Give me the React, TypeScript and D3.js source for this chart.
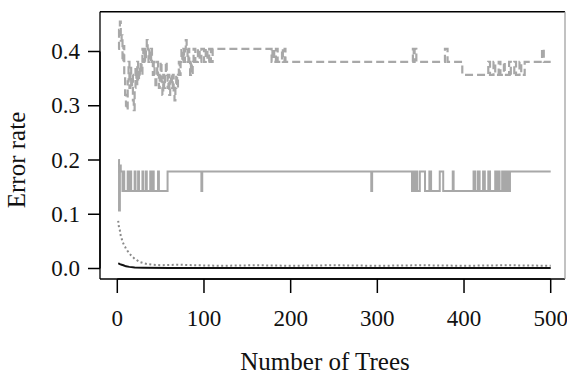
import React from "react";
import * as d3 from "d3";

const xTicks = [0, 100, 200, 300, 400, 500];
const xTickLabels = ["0", "100", "200", "300", "400", "500"];
const yTicks = [0, 0.1, 0.2, 0.3, 0.4];
const yTickLabels = ["0.0", "0.1", "0.2", "0.3", "0.4"];
const xTitle = "Number of Trees";
const yTitle = "Error rate";

// class 1 (grey dashed) — breakpoints [tree, error]
const class1Trees = [
  1, 2, 3, 4, 5, 6, 7, 8, 9, 10, 11, 12, 13, 14, 15, 16, 17, 18, 19, 20,
  21, 22, 23, 24, 25, 26, 27, 28, 29, 30, 31, 32, 33, 34, 35, 36, 37, 38, 39, 40,
  41, 42, 43, 44, 45, 46, 47, 48, 49, 50, 51, 52, 53, 54, 55, 56, 57, 58, 59, 60,
  61, 62, 63, 64, 65, 66, 67, 68, 69, 70, 71, 72, 73, 74, 75, 76, 77, 78, 79, 80,
  81, 82, 83, 84, 85, 86, 87, 88, 90, 93, 95, 97, 100, 102, 104, 106, 108, 110,
  178, 179, 181, 183, 185, 190, 191, 193, 194,
  341, 342, 343, 345, 378, 381, 398,
  428, 430, 434, 436, 440, 442, 446, 447, 452, 454, 458, 460, 464, 466, 470,
  490, 492, 500,
];
const class1Err = [
  0.405, 0.44, 0.455, 0.42, 0.43, 0.381, 0.41, 0.357, 0.32, 0.3, 0.292, 0.345, 0.381, 0.333, 0.37, 0.333, 0.357, 0.31, 0.292, 0.333,
  0.37, 0.34, 0.381, 0.345, 0.37, 0.357, 0.381, 0.357, 0.405, 0.381, 0.405, 0.381, 0.405, 0.421, 0.405, 0.381, 0.405, 0.381, 0.405, 0.381,
  0.357, 0.381, 0.357, 0.333, 0.357, 0.381, 0.357, 0.333, 0.357, 0.381, 0.345, 0.32, 0.357, 0.333, 0.357, 0.381, 0.357, 0.333, 0.357, 0.32,
  0.345, 0.357, 0.333, 0.357, 0.32, 0.31, 0.333, 0.357, 0.333, 0.357, 0.381, 0.357, 0.381, 0.405, 0.381, 0.405, 0.381, 0.405, 0.421, 0.405,
  0.381, 0.405, 0.381, 0.357, 0.381, 0.357, 0.381, 0.405, 0.381, 0.405, 0.381, 0.405, 0.381, 0.405, 0.381, 0.405, 0.381, 0.405,
  0.381, 0.405, 0.381, 0.405, 0.381, 0.405, 0.381, 0.405, 0.381,
  0.405, 0.381, 0.405, 0.381, 0.405, 0.381, 0.357,
  0.381, 0.357, 0.381, 0.357, 0.381, 0.357, 0.381, 0.357, 0.381, 0.357, 0.381, 0.357, 0.381, 0.357, 0.381,
  0.405, 0.381, 0.381,
];

// class 2 (grey solid)
const class2Trees = [
  1, 2, 3, 4, 6, 7, 8, 12, 13, 15, 16, 20, 21, 24, 25, 29, 30, 33, 34, 38, 39, 41, 42, 47, 48, 58,
  97, 98, 293, 294,
  340, 341, 342, 343, 344, 345, 346, 349, 355, 360, 362, 372, 376, 387, 388,
  411, 413, 416, 418, 422, 424, 428, 430, 436, 438, 440, 441, 444, 445, 447, 448, 450, 451, 453, 500,
];
const class2Err = [
  0.2, 0.107, 0.19, 0.179, 0.143, 0.179, 0.143, 0.179, 0.143, 0.179, 0.143, 0.179, 0.143, 0.179, 0.143, 0.179, 0.143, 0.179, 0.143, 0.179, 0.143, 0.179, 0.143, 0.179, 0.143, 0.179,
  0.143, 0.179, 0.143, 0.179,
  0.143, 0.179, 0.143, 0.179, 0.143, 0.179, 0.143, 0.179, 0.143, 0.179, 0.143, 0.179, 0.143, 0.179, 0.143,
  0.179, 0.143, 0.179, 0.143, 0.179, 0.143, 0.179, 0.143, 0.179, 0.143, 0.179, 0.143, 0.179, 0.143, 0.179, 0.143, 0.179, 0.143, 0.179, 0.179,
];

// class 3 (grey dotted)
const class3Trees = [1, 2, 3, 4, 5, 6, 7, 8, 9, 10, 12, 14, 16, 18, 20, 23, 26, 30, 35, 40, 50, 70, 90, 120, 160, 200, 250, 300, 350, 400, 450, 500];
const class3Err = [0.088, 0.075, 0.07, 0.06, 0.055, 0.05, 0.046, 0.042, 0.04, 0.036, 0.032, 0.028, 0.024, 0.021, 0.018, 0.015, 0.012, 0.01, 0.008, 0.007, 0.006, 0.007, 0.006, 0.005, 0.006, 0.005, 0.006, 0.005, 0.006, 0.005, 0.006, 0.005];

// OOB (black solid)
const oobTrees = [1, 2, 3, 5, 7, 10, 14, 20, 30, 60, 150, 300, 500];
const oobErr = [0.0095, 0.009, 0.008, 0.007, 0.006, 0.004, 0.003, 0.002, 0.0015, 0.001, 0.001, 0.001, 0.001];

const W = 567;
const H = 375;
const FONT = "Liberation Serif, DejaVu Serif, Noto Serif, serif";

export default function App() {
  const x = d3.scaleLinear().domain([0, 500]).range([117.3, 550.7]);
  const y = d3.scaleLinear().domain([0, 0.4]).range([268.5, 51.5]);
  const frame = { left: 100, top: 11.7, right: 565, bottom: 279 };

  const zip = (t: number[], v: number[]) => t.map((tt, i) => [tt, v[i]] as [number, number]);
  const stepLine = d3
    .line<[number, number]>()
    .x((d) => x(d[0]))
    .y((d) => y(d[1]))
    .curve(d3.curveStepAfter);
  const linLine = d3
    .line<[number, number]>()
    .x((d) => x(d[0]))
    .y((d) => y(d[1]));

  const textStyle: React.CSSProperties = { fontFamily: FONT };

  return (
    <div style={{ position: "absolute", left: 0, top: 0 }}>
      <svg width={W} height={H} style={{ display: "block", background: "#fff" }}>
        <rect x={0} y={0} width={W} height={H} fill="#fff" />
        {/* series */}
        <path d={linLine(zip(class3Trees, class3Err)) || ""} fill="none" stroke="#8a8a8a" strokeWidth={2} strokeDasharray="2,2.5" />
        <path d={stepLine(zip(class2Trees, class2Err)) || ""} fill="none" stroke="#a8a8a8" strokeWidth={2} />
        <path d={stepLine(zip(class1Trees, class1Err)) || ""} fill="none" stroke="#a8a8a8" strokeWidth={2.2} strokeDasharray="8,4" />
        <path d={linLine(zip(oobTrees, oobErr)) || ""} fill="none" stroke="#111" strokeWidth={2} />
        {/* frame */}
        <line x1={frame.left} x2={frame.right} y1={frame.top} y2={frame.top} stroke="#000" strokeWidth={1.5} />
        <line x1={frame.left} x2={frame.left} y1={frame.top} y2={frame.bottom} stroke="#000" strokeWidth={1.3} />
        <line x1={frame.left} x2={frame.right} y1={frame.bottom} y2={frame.bottom} stroke="#000" strokeWidth={1.3} />
        <line x1={frame.right} x2={frame.right} y1={frame.top} y2={frame.bottom} stroke="#999" strokeWidth={1.2} />
        {/* y axis */}
        <line x1={frame.left} x2={frame.left} y1={y(0)} y2={y(0.4)} stroke="#000" strokeWidth={1.5} />
        {yTicks.map((t, i) => (
          <g key={"y" + i}>
            <line x1={88} x2={frame.left} y1={y(t)} y2={y(t)} stroke="#000" strokeWidth={1.5} />
            <text x={80} y={y(t)} dy="0.33em" textAnchor="end" style={textStyle} fontSize={23} fill="#111">
              {yTickLabels[i]}
            </text>
          </g>
        ))}
        {/* x axis */}
        <line x1={x(0)} x2={x(500)} y1={frame.bottom} y2={frame.bottom} stroke="#000" strokeWidth={1.5} />
        {xTicks.map((t, i) => (
          <g key={"x" + i}>
            <line x1={x(t)} x2={x(t)} y1={frame.bottom} y2={293} stroke="#000" strokeWidth={1.5} />
            <text x={x(t)} y={326} textAnchor="middle" style={textStyle} fontSize={23} fill="#111">
              {xTickLabels[i]}
            </text>
          </g>
        ))}
        <text x={325} y={370} textAnchor="middle" style={textStyle} fontSize={25} fill="#111">
          {xTitle}
        </text>
        <text transform="translate(25,160) rotate(-90)" textAnchor="middle" style={textStyle} fontSize={25} fill="#111">
          {yTitle}
        </text>
      </svg>
    </div>
  );
}
